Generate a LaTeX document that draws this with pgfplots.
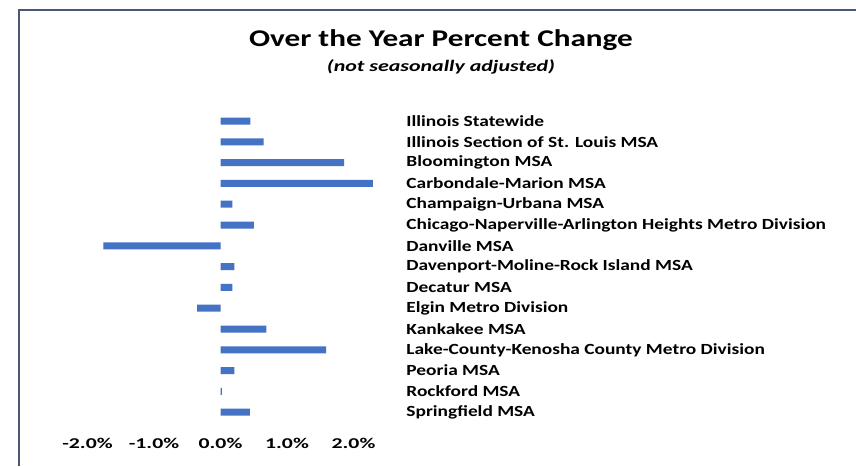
\documentclass[border=0pt]{standalone}
\usepackage{pgfplots}
\pgfplotsset{compat=1.18}
\usepackage{fontspec}
\setmainfont{Carlito}
\definecolor{barblue}{RGB}{68,114,196}
\definecolor{frameline}{RGB}{74,88,120}
\begin{document}
\begin{tikzpicture}[x=1pt,y=1pt]
  \useasboundingbox (0,0) rectangle (856,466);
  \fill[white] (0,0) rectangle (856,466);
  \draw[frameline, line width=1.2pt] (19,0) -- (19,456) -- (856,456);
  \node[font=\fontsize{24}{27}\selectfont\bfseries, xscale=1.3] at (441,426) {Over the Year Percent Change};
  \node[font=\fontsize{16}{18}\selectfont\bfseries\itshape, xscale=1.37] at (441,399) {(not seasonally adjusted)};
  \begin{axis}[
      at={(74.2pt,355.4pt)}, anchor=north west,
      scale only axis, width=325.85pt, height=312pt,
      xbar, bar width=7pt, bar shift=0pt,
      xmin=-2.2, xmax=2.7,
      ymin=-0.5, ymax=14.5, y dir=reverse,
      axis line style={draw=none}, major tick length=0pt,
      xtick={-2,-1,0,1,2},
      xticklabels={-2.0\%,-1.0\%,0.0\%,1.0\%,2.0\%},
      xticklabel style={font=\fontsize{15}{17}\selectfont\bfseries, xscale=1.45, yshift=-12pt},
      ytick={0,...,14},
      yticklabel pos=right,
      yticklabel style={anchor=west, xshift=2pt, xscale=1.25, font=\fontsize{15.5}{17}\selectfont\bfseries},
      yticklabels={Illinois Statewide, Illinois Section of St. Louis MSA, Bloomington MSA,
        Carbondale-Marion MSA, Champaign-Urbana MSA,
        Chicago-Naperville-Arlington Heights Metro Division, Danville MSA,
        Davenport-Moline-Rock Island MSA, Decatur MSA, Elgin Metro Division,
        Kankakee MSA, Lake-County-Kenosha County Metro Division, Peoria MSA,
        Rockford MSA, Springfield MSA},
    ]
    \addplot[fill=barblue, draw=none] coordinates {
      (0.45,0) (0.65,1) (1.86,2) (2.29,3) (0.18,4) (0.50,5) (-1.76,6)
      (0.21,7) (0.18,8) (-0.35,9) (0.69,10) (1.59,11) (0.21,12) (0.02,13) (0.44,14)};
  \end{axis}
\end{tikzpicture}
\end{document}
